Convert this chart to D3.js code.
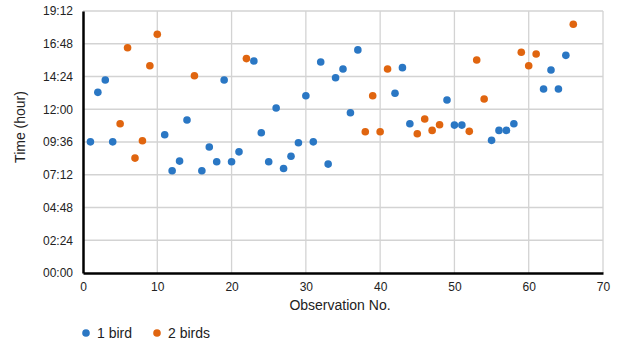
<!DOCTYPE html>
<html>
<head>
<meta charset="utf-8">
<script src="https://cdn.jsdelivr.net/npm/d3@7"></script>
<style>
  body { margin: 0; background: #fff; }
  text { font-family: "Liberation Sans", Arial, sans-serif; fill: #222; }
</style>
</head>
<body>
<svg id="chart" width="618" height="344"></svg>
<script>
// observation number, time of day in hours
const oneBirdObs = [1, 2, 3, 4, 11, 12, 13, 14, 16, 17, 18, 19, 20, 21, 23, 24, 25, 26, 27, 28, 29, 30,
                    31, 32, 33, 34, 35, 36, 37, 42, 43, 44, 49, 50, 51, 55, 56, 57, 58, 62, 63, 64, 65];
const oneBirdTime = [9.61, 13.24, 14.14, 9.61, 10.13, 7.49, 8.2, 11.21, 7.49, 9.23, 8.15, 14.14, 8.15, 8.88,
                     15.54, 10.28, 8.15, 12.09, 7.66, 8.56, 9.54, 12.99, 9.61, 15.46, 7.98, 14.31, 14.95,
                     11.74, 16.35, 13.17, 15.05, 10.94, 12.68, 10.84, 10.84, 9.72, 10.45, 10.45, 10.94,
                     13.48, 14.88, 13.48, 15.95];
const twoBirdsObs = [5, 6, 7, 8, 9, 10, 15, 22, 38, 39, 40, 41, 45, 46, 47, 48, 52, 53, 54, 59, 60, 61, 66];
const twoBirdsTime = [10.94, 16.51, 8.42, 9.69, 15.19, 17.5, 14.46, 15.71, 10.35, 12.99, 10.35, 14.95,
                      10.2, 11.28, 10.45, 10.86, 10.38, 15.61, 12.75, 16.18, 15.19, 16.05, 18.23];
const xTicks = [0, 10, 20, 30, 40, 50, 60, 70];
const yTicks = [0, 2.4, 4.8, 7.2, 9.6, 12, 14.4, 16.8, 19.2];
const yTickLabels = ["00:00", "02:24", "04:48", "07:12", "09:36", "12:00", "14:24", "16:48", "19:12"];

const svg    = d3.select("#chart"),
      margin = {top: 11, right: 15, bottom: 71, left: 83},
      width  = +svg.attr("width")  - margin.left - margin.right,
      height = +svg.attr("height") - margin.top  - margin.bottom,
      x      = d3.scaleLinear().domain([0, 70]).range([0, width]),
      y      = d3.scaleLinear().domain([0, 19.2]).range([height, 0]),
      g      = svg.append("g")
                  .attr("transform", `translate(${margin.left},${margin.top})`);

const series = [
  {name: "1 bird",  color: "#2a77c4", obs: oneBirdObs,  time: oneBirdTime},
  {name: "2 birds", color: "#e0650f", obs: twoBirdsObs, time: twoBirdsTime}
];

// grid
g.append("g")
    .selectAll("line")
    .data(xTicks.slice(1))
    .enter().append("line")
      .attr("x1", d => x(d)).attr("x2", d => x(d))
      .attr("y1", 0).attr("y2", height)
      .attr("stroke", "#d3d3d3").attr("stroke-width", 1.3);

g.append("g")
    .selectAll("line")
    .data(yTicks.slice(1))
    .enter().append("line")
      .attr("x1", 0).attr("x2", width)
      .attr("y1", d => y(d)).attr("y2", d => y(d))
      .attr("stroke", "#d3d3d3").attr("stroke-width", 1.3);

// axes
const xAxis = g.append("g")
    .attr("transform", `translate(0,${height})`)
    .call(d3.axisBottom(x).tickValues(xTicks).tickFormat(d3.format("d")).tickSize(0).tickPadding(9));

const yAxis = g.append("g")
    .call(d3.axisLeft(y).tickValues(yTicks).tickFormat((d, i) => yTickLabels[i]).tickSize(0).tickPadding(10));

[xAxis, yAxis].forEach(a => {
  a.select(".domain").attr("stroke", "#000").attr("stroke-width", 2.5);
  a.selectAll("text").style("font-size", "12px").attr("fill", "#222");
});

// points
series.forEach(s => {
  g.append("g")
    .selectAll("circle")
    .data(s.obs.map((o, i) => ({o: o, t: s.time[i]})))
    .enter().append("circle")
      .attr("cx", d => x(d.o))
      .attr("cy", d => y(d.t))
      .attr("r", 3.8)
      .attr("fill", s.color);
});

// axis titles
g.append("text")
    .attr("x", width / 2 - 3)
    .attr("y", height + 37)
    .attr("text-anchor", "middle")
    .style("font-size", "14px")
    .text("Observation No.");

g.append("text")
    .attr("transform", "rotate(-90)")
    .attr("x", -height / 2 + 15)
    .attr("y", -58)
    .attr("text-anchor", "middle")
    .style("font-size", "14px")
    .text("Time (hour)");

// legend
const legend = svg.append("g")
    .attr("transform", "translate(86,333)");

const item = legend.selectAll("g")
    .data(series)
    .enter().append("g")
      .attr("transform", (d, i) => `translate(${i * 71},0)`);

item.append("circle")
    .attr("r", 3.8)
    .attr("fill", d => d.color);

item.append("text")
    .attr("x", 11)
    .attr("dy", "0.35em")
    .style("font-size", "14px")
    .text(d => d.name);
</script>
</body>
</html>
